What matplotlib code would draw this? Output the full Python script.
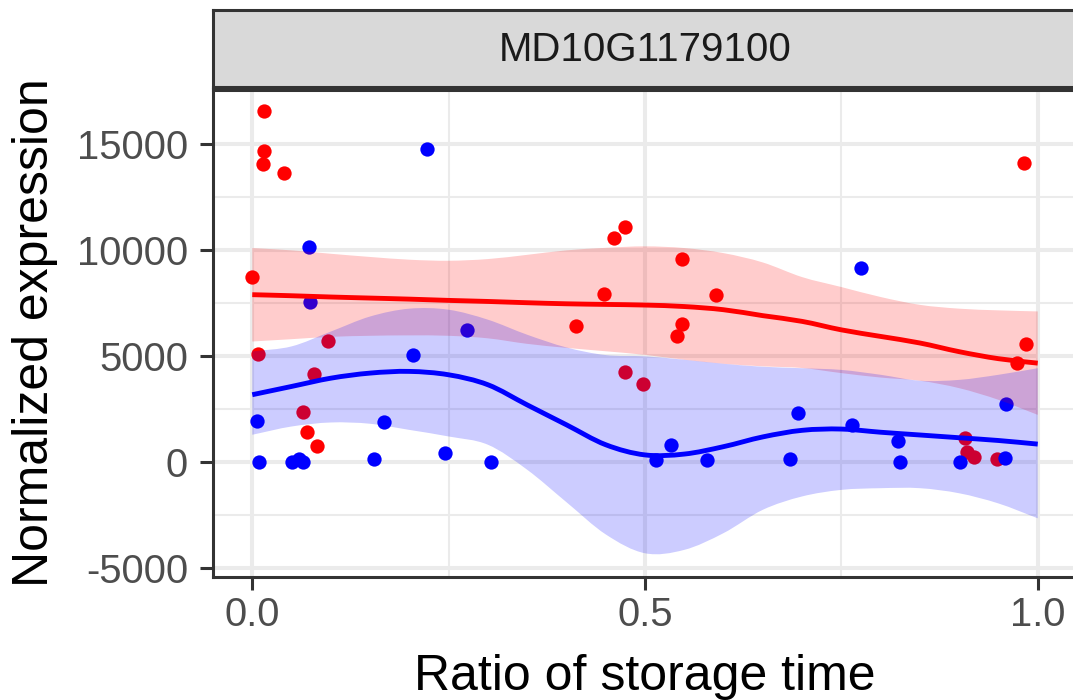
import matplotlib
matplotlib.use("Agg")
import matplotlib.pyplot as plt
from matplotlib.path import Path
from matplotlib.patches import PathPatch

plt.rcParams['font.family'] = ['Liberation Sans', 'DejaVu Sans']

# ---- data -------------------------------------------------------------
gene = "MD10G1179100"

red_x = [0.015, 0.015, 0.014, 0.040, 0.000, 0.096, 0.007, 0.079, 0.064,
         0.070, 0.083, 0.4745, 0.4605, 0.5475, 0.448, 0.590, 0.4125, 0.5475,
         0.541, 0.474, 0.498, 0.982, 0.985, 0.974, 0.907, 0.910, 0.919, 0.948]
red_y = [16570, 14700, 14085, 13645, 8750, 5745, 5100, 4170, 2395,
         1450, 790, 11110, 10605, 9615, 7950, 7915, 6425, 6520,
         5950, 4255, 3715, 14130, 5605, 4705, 1165, 505, 240, 160]

blue_x = [0.072, 0.073, 0.204, 0.006, 0.168, 0.008, 0.050, 0.059, 0.065,
          0.155, 0.245, 0.304, 0.274, 0.222, 0.775, 0.695, 0.764, 0.960,
          0.822, 0.958, 0.684, 0.8245, 0.901, 0.533, 0.5135, 0.579]
blue_y = [10155, 7585, 5070, 1970, 1905, 30, 0, 145, 0,
          145, 460, 0, 6265, 14795, 9190, 2345, 1765, 2740,
          1025, 210, 145, 0, 0, 820, 115, 100]

# fitted smooth curves with their confidence bands
smooth_x = [0.00, 0.05, 0.10, 0.15, 0.20, 0.25, 0.30, 0.35, 0.40, 0.45, 0.50,
            0.55, 0.60, 0.65, 0.70, 0.75, 0.80, 0.85, 0.90, 0.95, 1.00]

red_fit = [7910, 7860, 7800, 7750, 7700, 7640, 7590, 7530, 7480, 7450, 7420,
           7350, 7200, 6920, 6650, 6250, 5940, 5630, 5220, 4890, 4680]
red_hi = [10110, 10000, 9840, 9690, 9560, 9510, 9590, 9790, 10000, 10120, 10190,
          10110, 9870, 9430, 8740, 8270, 7800, 7430, 7250, 7170, 7120]
red_lo = [5700, 5810, 5920, 5970, 5990, 5970, 5850, 5590, 5400, 5240, 5070,
          4840, 4650, 4530, 4450, 4210, 4000, 3850, 3500, 2950, 2240]

blue_fit = [3190, 3580, 3970, 4210, 4290, 4130, 3660, 2710, 1770, 830, 350,
            390, 740, 1200, 1510, 1570, 1420, 1290, 1160, 1030, 860]
blue_hi = [5230, 5470, 6170, 6880, 7250, 7200, 6730, 6020, 5420, 5060, 5000,
           4840, 4650, 4510, 4440, 4360, 4130, 3850, 3890, 4130, 4440]
blue_lo = [1300, 1690, 1880, 1820, 1530, 1220, 830, -350, -1880, -3400, -4290,
           -4130, -3340, -2240, -1610, -1300, -1220, -1220, -1460, -1940, -2640]

x_ticks = [0.0, 0.5, 1.0]
x_ticklabels = ["0.0", "0.5", "1.0"]
x_minor = [0.25, 0.75]
y_ticks = [-5000, 0, 5000, 10000, 15000]
y_ticklabels = ["-5000", "0", "5000", "10000", "15000"]
y_minor = [-2500, 2500, 7500, 12500]

RED = "#FF0000"
BLUE = "#0000FF"
GRID = "#EBEBEB"
DARK = "#333333"


def bezier_segments(xs, ys):
    """Vertices and codes of a smooth (Catmull-Rom style) cubic path
    passing through every (x, y) pair."""
    n = len(xs)
    verts = [(xs[0], ys[0])]
    codes = [Path.MOVETO]
    for i in range(n - 1):
        i0 = max(i - 1, 0)
        i3 = min(i + 2, n - 1)
        c1 = (xs[i] + (xs[i + 1] - xs[i0]) / 6.0 * (1 if i > 0 else 2),
              ys[i] + (ys[i + 1] - ys[i0]) / 6.0 * (1 if i > 0 else 2))
        c2 = (xs[i + 1] - (xs[i3] - xs[i]) / 6.0 * (1 if i < n - 2 else 2),
              ys[i + 1] - (ys[i3] - ys[i]) / 6.0 * (1 if i < n - 2 else 2))
        verts += [c1, c2, (xs[i + 1], ys[i + 1])]
        codes += [Path.CURVE4] * 3
    return verts, codes


def smooth_line(ax, xs, ys, color, lw, z):
    v, c = bezier_segments(xs, ys)
    ax.add_patch(PathPatch(Path(v, c), facecolor="none", edgecolor=color,
                           lw=lw, zorder=z, capstyle="butt"))


def smooth_band(ax, xs, lo, hi, color, alpha, z):
    vu, cu = bezier_segments(xs, hi)
    vl, cl = bezier_segments(xs[::-1], lo[::-1])
    verts = vu + [vl[0]] + vl[1:] + [vu[0]]
    codes = cu + [Path.LINETO] + cl[1:] + [Path.CLOSEPOLY]
    ax.add_patch(PathPatch(Path(verts, codes), facecolor=color, alpha=alpha,
                           lw=0, edgecolor="none", zorder=z))


# ---- figure -----------------------------------------------------------
W, H = 1073, 700
fig = plt.figure(figsize=(W / 100, H / 100), dpi=100)
fig.patch.set_facecolor("white")

pl, pr, pt, pb = 213, 1077, 89.5, 577
ax = fig.add_axes([pl / W, 1 - pb / H, (pr - pl) / W, (pb - pt) / H])
ax.set_xlim(-0.05, 1.05)
ax.set_ylim(-5410, 17590)

# grid
for v in x_minor:
    ax.axvline(v, color=GRID, lw=1.5, zorder=0)
for v in y_minor:
    ax.axhline(v, color=GRID, lw=1.5, zorder=0)
for v in x_ticks:
    ax.axvline(v, color=GRID, lw=2.9, zorder=0)
for v in y_ticks:
    ax.axhline(v, color=GRID, lw=2.9, zorder=0)

# points
ax.scatter(red_x, red_y, s=106, color=RED, linewidths=0, zorder=2)
ax.scatter(blue_x, blue_y, s=106, color=BLUE, linewidths=0, zorder=2)

# smooths with confidence bands
smooth_band(ax, smooth_x, red_lo, red_hi, RED, 0.2, 3)
smooth_line(ax, smooth_x, red_fit, RED, 3.5, 3)
smooth_band(ax, smooth_x, blue_lo, blue_hi, BLUE, 0.2, 4)
smooth_line(ax, smooth_x, blue_fit, BLUE, 3.5, 4)

# axes styling
for s in ax.spines.values():
    s.set_color(DARK)
    s.set_linewidth(2.2)
ax.set_xticks(x_ticks)
ax.set_xticklabels(x_ticklabels)
ax.set_yticks(y_ticks)
ax.set_yticklabels(y_ticklabels)
ax.tick_params(axis="both", length=9.4, width=2.2, color=DARK,
               labelsize=28.8, labelcolor="#4D4D4D")
ax.tick_params(axis="y", pad=8.5)
ax.tick_params(axis="x", pad=4.5)

fig.text(645 / W, 1 - 690 / H, "Ratio of storage time", fontsize=36,
         ha="center", va="baseline", color="black")
fig.text(12 / W, 1 - 333 / H, "Normalized expression", fontsize=36,
         rotation=90, ha="left", va="center", color="black")

# facet strip
sax = fig.add_axes([pl / W, 1 - 87 / H, (pr - pl) / W, (87 - 10) / H])
sax.set_xlim(0, 1)
sax.set_ylim(0, 1)
sax.set_xticks([])
sax.set_yticks([])
sax.set_facecolor("#D9D9D9")
for s in sax.spines.values():
    s.set_color(DARK)
    s.set_linewidth(2.2)
fig.text(645 / W, 1 - 61 / H, gene, fontsize=29, ha="center",
         va="baseline", color="#1A1A1A")

fig.savefig("out.png", dpi=100)
